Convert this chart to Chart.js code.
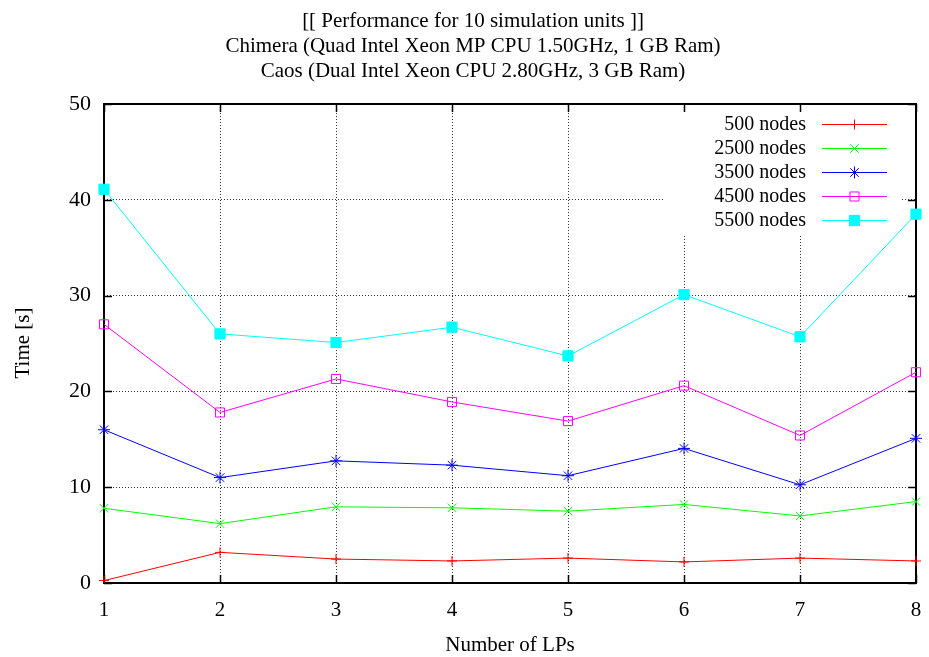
<!DOCTYPE html>
<html>
<head>
<meta charset="utf-8">
<script src="https://cdn.jsdelivr.net/npm/chart.js@4/dist/chart.umd.min.js"></script>
<style>
  html, body { margin: 0; padding: 0; background: #fff; }
  #wrap { width: 929px; height: 657px; position: relative; }
</style>
</head>
<body>
<div id="wrap"><canvas id="c" width="929" height="657"></canvas></div>
<script>
const titleLines = [
  "[[ Performance for 10 simulation units ]]",
  "Chimera (Quad Intel Xeon MP CPU 1.50GHz, 1 GB Ram)",
  "Caos (Dual Intel Xeon CPU 2.80GHz, 3 GB Ram)"
];
const xTitle = "Number of LPs";
const yTitle = "Time [s]";
const categories = ["1", "2", "3", "4", "5", "6", "7", "8"];
const seriesNames = ["500 nodes", "2500 nodes", "3500 nodes", "4500 nodes", "5500 nodes"];
const nodes500  = [0.25, 3.2, 2.5, 2.3, 2.6, 2.2, 2.6, 2.3];
const nodes2500 = [7.8, 6.2, 7.95, 7.85, 7.5, 8.2, 7.0, 8.5];
const nodes3500 = [16.0, 11.0, 12.75, 12.3, 11.2, 14.05, 10.25, 15.1];
const nodes4500 = [27.0, 17.8, 21.3, 18.9, 16.9, 20.6, 15.4, 22.0];
const nodes5500 = [41.1, 26.0, 25.1, 26.7, 23.7, 30.1, 25.7, 38.5];
const yTicks = [0, 10, 20, 30, 40, 50];

const FONT = "'Liberation Serif', 'DejaVu Serif', serif";
const colors = ["#ff0000", "#00ff00", "#0000ff", "#ff00ff", "#00ffff"];
const styles = [
  { pointStyle: "cross", r: 5, fill: "transparent" },
  { pointStyle: "crossRot", r: 6, fill: "transparent" },
  { pointStyle: "star", r: 6, fill: "transparent" },
  { pointStyle: "rect", r: 6.4, fill: "transparent" },
  { pointStyle: "rect", r: 7.2, fill: "#00ffff" }
];
const allSeries = [nodes500, nodes2500, nodes3500, nodes4500, nodes5500];

const datasets = allSeries.map((d, i) => ({
  label: seriesNames[i],
  data: d,
  borderColor: colors[i],
  backgroundColor: styles[i].fill,
  borderWidth: 1,
  pointStyle: styles[i].pointStyle,
  pointRadius: styles[i].r,
  pointHoverRadius: styles[i].r,
  pointBorderColor: colors[i],
  pointBackgroundColor: styles[i].fill,
  pointBorderWidth: 1,
  tension: 0,
  fill: false
}));

const decorPlugin = {
  id: "decor",
  beforeDatasetsDraw(chart) {
    const ctx = chart.ctx;
    const a = chart.chartArea;
    const xs = chart.scales.x, ys = chart.scales.y;
    ctx.save();
    // legend mask (grid hidden under key)
    ctx.fillStyle = "#fff";
    ctx.fillRect(663, a.top + 1, 238, 233 - a.top);
    // inward ticks
    ctx.strokeStyle = "#000";
    ctx.lineWidth = 1.5;
    ctx.beginPath();
    categories.forEach((c, i) => {
      const px = Math.round(xs.getPixelForValue(i)) + 0.5;
      ctx.moveTo(px, a.bottom); ctx.lineTo(px, a.bottom - 8);
      ctx.moveTo(px, a.top); ctx.lineTo(px, a.top + 8);
    });
    yTicks.forEach(v => {
      const py = Math.round(ys.getPixelForValue(v)) + 0.5;
      ctx.moveTo(a.left, py); ctx.lineTo(a.left + 8, py);
      ctx.moveTo(a.right, py); ctx.lineTo(a.right - 8, py);
    });
    ctx.stroke();
    // border
    ctx.lineWidth = 2;
    ctx.strokeStyle = "#000";
    ctx.strokeRect(Math.round(a.left), Math.round(a.top), Math.round(a.right - a.left), Math.round(a.bottom - a.top));
    // legend
    ctx.font = "20px " + FONT;
    ctx.textAlign = "right";
    ctx.textBaseline = "middle";
    seriesNames.forEach((name, i) => {
      const y = 123.5 + i * 24;
      ctx.fillStyle = "#000";
      ctx.fillText(name, 806, y + 1);
      ctx.strokeStyle = colors[i];
      ctx.lineWidth = 1;
      ctx.beginPath();
      ctx.moveTo(822, Math.round(y) + 0.5);
      ctx.lineTo(887, Math.round(y) + 0.5);
      ctx.stroke();
      ctx.fillStyle = styles[i].fill;
      ctx.strokeStyle = colors[i];
      Chart.helpers.drawPoint(ctx, {
        pointStyle: styles[i].pointStyle,
        radius: styles[i].r,
        rotation: 0,
        borderWidth: 1
      }, 854.5, Math.round(y) + 0.5);
      if (styles[i].fill !== "transparent") ctx.fill();
    });
    ctx.restore();
  },
  afterDraw(chart) {
    const ctx = chart.ctx;
    ctx.save();
    ctx.fillStyle = "#000";
    ctx.textAlign = "center";
    ctx.textBaseline = "middle";
    ctx.font = "21px " + FONT;
    titleLines.forEach((t, i) => ctx.fillText(t, 473, 21 + i * 25));
    ctx.fillText(xTitle, 510, 645);
    ctx.translate(23, 343);
    ctx.rotate(-Math.PI / 2);
    ctx.fillText(yTitle, 0, 0);
    ctx.restore();
  }
};

new Chart(document.getElementById("c"), {
  type: "line",
  data: { labels: categories, datasets },
  options: {
    responsive: false,
    animation: false,
    devicePixelRatio: 1,
    layout: { padding: { top: 104, right: 13, left: 0, bottom: 0 } },
    plugins: {
      legend: { display: false },
      title: { display: false },
      tooltip: { enabled: false }
    },
    scales: {
      x: {
        type: "category",
        offset: false,
        afterFit(s) { s.height = 74; s.paddingRight = 0; s.paddingLeft = 0; },
        grid: { color: "#333", lineWidth: 1, drawTicks: false },
        border: { display: false, dash: [1, 2] },
        ticks: { color: "#000", padding: 15, font: { family: FONT, size: 21 }, maxRotation: 0 }
      },
      y: {
        min: 0, max: 50,
        afterFit(s) { s.width = 104; s.paddingTop = 0; s.paddingBottom = 0; },
        afterBuildTicks(s) { s.ticks = yTicks.map(v => ({ value: v })); },
        grid: { color: "#333", lineWidth: 1, drawTicks: false },
        border: { display: false, dash: [1, 2] },
        ticks: { color: "#000", padding: 13, font: { family: FONT, size: 22 } }
      }
    }
  },
  plugins: [decorPlugin]
});
</script>
</body>
</html>
